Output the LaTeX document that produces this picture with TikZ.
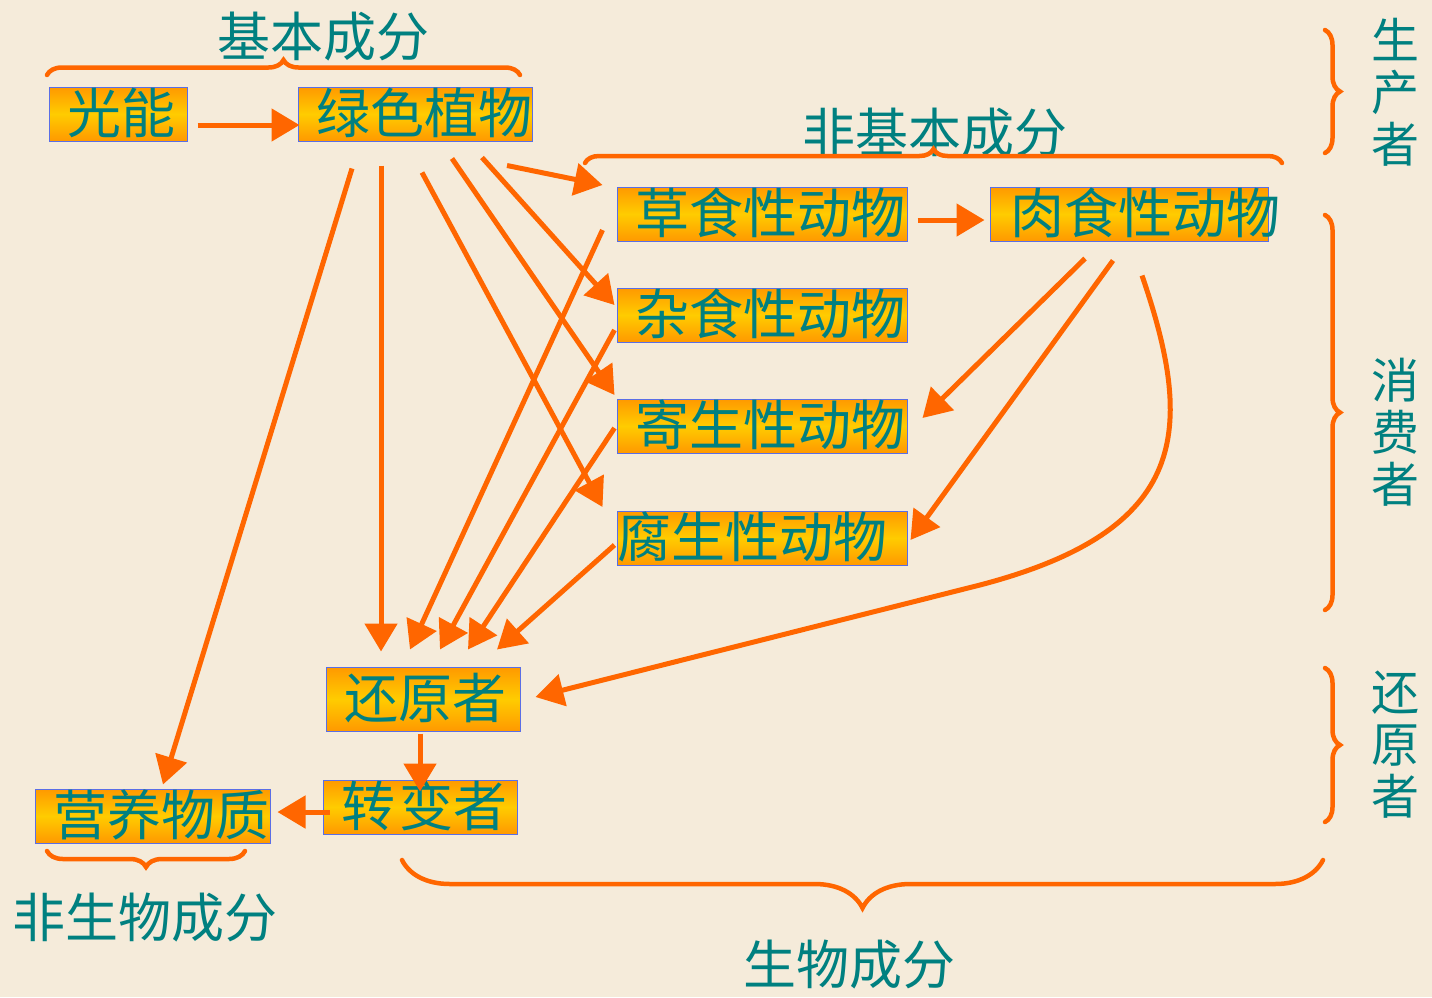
\documentclass[tikz,border=0pt]{standalone}
\usepackage{fontspec}
\newfontfamily\cjk{Noto Sans CJK SC}
\usetikzlibrary{arrows.meta,calc,decorations.pathreplacing}
\definecolor{bg}{RGB}{245,235,218}
\definecolor{arr}{RGB}{255,102,0}
\definecolor{teal1}{RGB}{0,128,128}
\definecolor{bxtop}{RGB}{255,153,0}
\definecolor{bxmid}{RGB}{255,204,0}
\definecolor{bxline}{RGB}{90,110,230}
\tikzset{
  boxnode/.style={draw=bxline, line width=1pt, top color=bxtop, bottom color=bxtop, middle color=bxmid,
    inner xsep=0pt, inner ysep=0pt, align=left, text=teal1,
    font=\cjk\fontsize{54pt}{56pt}\selectfont, text height=46pt, text depth=8pt},
  lbl/.style={text=teal1, font=\cjk\fontsize{53pt}{56pt}\selectfont, inner sep=0pt},
  vlbl/.style={text=teal1, font=\cjk\fontsize{48pt}{52pt}\selectfont, inner sep=0pt, align=center},
  flow/.style={draw=arr, line width=5pt, -{Triangle[length=28pt,width=32pt]}},
  brc/.style={draw=arr, line width=4.5pt, line cap=round, decorate, decoration={brace, amplitude=#1}},
}
\begin{document}
\begin{tikzpicture}[x=1pt,y=-1pt]
\fill[bg] (0,0) rectangle (1432,997);
\useasboundingbox (0,0) rectangle (1432,997);

% boxes
\node[boxnode, text width=138pt] (light) at (118,114) {\hspace*{18pt}光能};
\node[boxnode, text width=234pt] (plant) at (415,114) {\hspace*{18pt}绿色植物};
\node[boxnode, text width=290pt] (herb) at (762,214) {\hspace*{18pt}草食性动物};
\node[boxnode, text width=278pt] (carn) at (1129,214) {\hspace*{20pt}肉食性动物};
\node[boxnode, text width=290pt] (omni) at (762,315) {\hspace*{18pt}杂食性动物};
\node[boxnode, text width=290pt] (para) at (762,426) {\hspace*{18pt}寄生性动物};
\node[boxnode, text width=290pt] (sapro) at (762,538) {\hspace*{0pt}腐生性动物};
\node[boxnode, text width=194pt, text height=51pt, text depth=13pt] (decomp) at (423,699) {\hspace*{18pt}还原者};
\node[boxnode, text width=194pt] (trans) at (420,807) {\hspace*{18pt}转\hspace{4pt}变者};
\node[boxnode, text width=235pt] (nutr) at (152.5,816) {\hspace*{18pt}营养物质};

% labels
\node[lbl] (lbasic) at (323,37) {基本成分};
\node[lbl] (lnonbasic) at (935,133) {非基本成分};
\node[lbl] (labio) at (145,918) {非生物成分};
\node[lbl] (lbio) at (849,965) {生物成分};
\node[vlbl] (lprod) at (1395,92) {生\\产\\者};
\node[vlbl] (lcons) at (1395,432) {消\\费\\者};
\node[vlbl] (lred) at (1395,745) {还\\原\\者};

% braces
\draw[brc=15pt] (47,75) -- (520,75);
\draw[brc=14pt] (585,163) -- (1282,163);
\draw[brc=15pt] (1325,30) -- (1325,153);
\draw[brc=15pt] (1325,215) -- (1325,610);
\draw[brc=15pt] (1325,668) -- (1325,822);
\draw[brc=48pt] (1323,860) -- (402,860);
\draw[brc=16pt] (245,851) -- (47,851);

% connectors
\draw[flow] ($(light.east)+(10,11)$) -- ($(plant.west)+(2,11)$);
\draw[flow] ($(herb.east)+(10,6)$) -- ($(carn.west)+(-5,6)$);
\draw[flow] ($(plant.south)+(92,24)$) -- ($(herb.west)+(-14,-29)$);
\draw[flow] ($(plant.south)+(67,16)$) -- ($(omni.west)+(-2,-10)$);
\draw[flow] ($(plant.south)+(37,17)$) -- ($(para.west)+(-2,-31)$);
\draw[flow] ($(plant.south)+(7,31)$) -- ($(sapro.west)+(-14,-31)$);
\draw[flow] ($(plant.south)+(-34,24)$) -- ($(decomp.north)+(-42,-15)$);
\draw[flow] ($(plant.south)+(-63,27)$) -- ($(nutr.north)+(10.5,-4)$);
\draw[flow] ($(herb.west)+(-14,16)$) -- ($(decomp.north)+(-13,-17)$);
\draw[flow] ($(omni.west)+(-2,15)$) -- ($(decomp.north)+(17,-17)$);
\draw[flow] ($(para.west)+(-2,2)$) -- ($(decomp.north)+(45,-17)$);
\draw[flow] ($(sapro.west)+(-2,7)$) -- ($(decomp.north)+(74,-17)$);
\draw[flow] ($(carn.south)+(-44,17)$) -- ($(para.east)+(15,-8)$);
\draw[flow] ($(carn.south)+(-16,19)$) -- ($(sapro.east)+(3,2)$);
\draw[flow] ($(carn.south)+(13,34)$) .. controls (1195,430) and (1190,530) .. (980,585) -- ($(decomp.east)+(15,-2)$);
\draw[flow] ($(decomp.south)+(-3,2)$) -- ($(trans.north)+(0,12)$);
\draw[flow] ($(trans.west)+(7,5)$) -- ($(nutr.east)+(7,-4)$);
\end{tikzpicture}
\end{document}
